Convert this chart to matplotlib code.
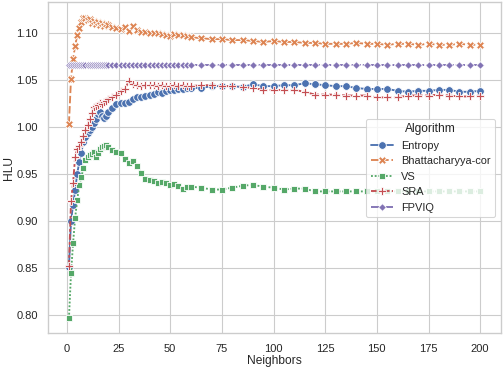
import matplotlib
matplotlib.use("Agg")
import matplotlib.pyplot as plt
import pandas as pd
import seaborn as sns

# neighbors evaluated
neighbors = [1, 2, 3, 4, 5, 6, 7, 8, 9, 10, 11, 12, 13, 14, 15, 16, 17, 18, 19, 20,
             22, 24, 26, 28, 30, 32, 34, 36, 38, 40, 42, 44, 46, 48, 50, 52, 54, 56, 58, 60,
             65, 70, 75, 80, 85, 90, 95, 100, 105, 110, 115, 120, 125, 130, 135, 140,
             145, 150, 155, 160, 165, 170, 175, 180, 185, 190, 195, 200]

entropy = [0.851, 0.899, 0.917, 0.932, 0.950, 0.962, 0.972, 0.984, 0.989, 0.993,
           0.996, 0.999, 1.004, 1.008, 1.013, 1.015, 1.011, 1.009, 1.011, 1.015,
           1.020, 1.024, 1.025, 1.025, 1.026, 1.029, 1.031, 1.031, 1.033, 1.034,
           1.035, 1.037, 1.036, 1.038, 1.039, 1.039, 1.040, 1.040, 1.041, 1.041,
           1.041, 1.043, 1.043, 1.043, 1.042, 1.045, 1.043, 1.043, 1.044, 1.044,
           1.046, 1.045, 1.044, 1.043, 1.043, 1.041, 1.040, 1.040, 1.040, 1.038,
           1.037, 1.038, 1.038, 1.039, 1.039, 1.037, 1.037, 1.038]

bhatt = [1.003, 1.051, 1.072, 1.086, 1.097, 1.105, 1.111, 1.115, 1.116, 1.113,
         1.114, 1.110, 1.112, 1.109, 1.111, 1.108, 1.110, 1.107, 1.109, 1.108,
         1.106, 1.105, 1.104, 1.106, 1.102, 1.107, 1.103, 1.101, 1.101, 1.100,
         1.099, 1.099, 1.098, 1.097, 1.096, 1.098, 1.097, 1.097, 1.096, 1.095,
         1.094, 1.093, 1.093, 1.092, 1.092, 1.091, 1.090, 1.091, 1.090, 1.090,
         1.089, 1.089, 1.088, 1.088, 1.088, 1.089, 1.088, 1.088, 1.087, 1.088,
         1.088, 1.087, 1.088, 1.087, 1.087, 1.088, 1.087, 1.087]

vs = [0.796, 0.844, 0.876, 0.903, 0.922, 0.938, 0.946, 0.956, 0.964, 0.968,
      0.970, 0.971, 0.973, 0.968, 0.972, 0.976, 0.978, 0.979, 0.980, 0.978,
      0.975, 0.973, 0.972, 0.965, 0.961, 0.963, 0.958, 0.951, 0.944, 0.943,
      0.942, 0.940, 0.941, 0.940, 0.938, 0.939, 0.937, 0.934, 0.936, 0.936,
      0.935, 0.933, 0.933, 0.935, 0.937, 0.938, 0.936, 0.935, 0.933, 0.934,
      0.934, 0.931, 0.931, 0.931, 0.931, 0.931, 0.931, 0.931, 0.931, 0.931,
      0.931, 0.931, 0.931, 0.931, 0.931, 0.931, 0.931, 0.931]

sra = [0.852, 0.921, 0.940, 0.968, 0.976, 0.979, 0.984, 0.990, 0.996, 1.002,
       1.008, 1.014, 1.021, 1.022, 1.023, 1.025, 1.024, 1.026, 1.027, 1.029,
       1.031, 1.034, 1.038, 1.040, 1.048, 1.045, 1.044, 1.043, 1.044, 1.044,
       1.044, 1.043, 1.044, 1.043, 1.043, 1.044, 1.043, 1.044, 1.043, 1.043,
       1.044, 1.044, 1.043, 1.043, 1.042, 1.041, 1.039, 1.039, 1.039, 1.039,
       1.037, 1.034, 1.034, 1.034, 1.033, 1.033, 1.033, 1.031, 1.031, 1.031,
       1.033, 1.033, 1.033, 1.034, 1.033, 1.032, 1.032, 1.033]

# flat line
fpviq = [1.066] * len(neighbors)

algorithms = ["Entropy", "Bhattacharyya-cor", "VS", "SRA", "FPVIQ"]
scores = [entropy, bhatt, vs, sra, fpviq]

frames = []
for name, vals in zip(algorithms, scores):
    frames.append(pd.DataFrame({"Neighbors": neighbors, "HLU": vals, "Algorithm": name}))
df = pd.concat(frames, ignore_index=True)

sns.set_theme(style="whitegrid")
plt.rcParams["font.family"] = ["Liberation Sans", "DejaVu Sans"]
plt.rcParams["xtick.labelsize"] = 10.2
plt.rcParams["ytick.labelsize"] = 10.2
plt.rcParams["axes.labelsize"] = 11
plt.rcParams["legend.fontsize"] = 10
plt.rcParams["legend.title_fontsize"] = 11

fig, ax = plt.subplots(figsize=(6.4, 4.7), dpi=78.75)
sns.lineplot(data=df, x="Neighbors", y="HLU", hue="Algorithm", style="Algorithm",
             markers=True, markersize=7, linewidth=1.7, ax=ax)
sns.move_legend(ax, "center right")
ax.set_xlabel("Neighbors", labelpad=1)
ax.set_ylabel("HLU", labelpad=1)

fig.subplots_adjust(left=0.096, right=0.9935, top=0.993, bottom=0.099)
fig.savefig("out.png", dpi=78.75)
